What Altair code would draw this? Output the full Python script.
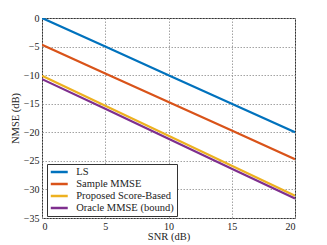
import altair as alt
import pandas as pd

snr = [0, 5, 10, 15, 20]
series_names = ["LS", "Sample MMSE", "Proposed Score-Based", "Oracle MMSE (bound)"]
ls = [0.0, -5.0, -10.0, -15.0, -20.0]
sample_mmse = [-4.7, -9.7, -14.7, -19.7, -24.7]
proposed = [-10.1, -15.35, -20.6, -25.85, -31.1]
oracle = [-10.7, -15.9, -21.15, -26.4, -31.6]
colors = ["#0072BD", "#D95319", "#EDB120", "#7E2F8E"]

rows = []
for name, vals in zip(series_names, [ls, sample_mmse, proposed, oracle]):
    for s, v in zip(snr, vals):
        rows.append({"SNR": s, "NMSE": v, "Method": name})
df = pd.DataFrame(rows)

font = "Liberation Serif"

chart = alt.Chart(df).mark_line(strokeWidth=2.2, clip=True).encode(
    x=alt.X("SNR:Q", title="SNR (dB)", scale=alt.Scale(domain=[0, 20], nice=False),
            axis=alt.Axis(values=[0, 5, 10, 15, 20], grid=True, gridDash=[1.5, 1.5],
                          gridColor="#999999", gridOpacity=0.9, tickSize=0,
                          labelPadding=3, titleY=13, domain=False)),
    y=alt.Y("NMSE:Q", title="NMSE (dB)", scale=alt.Scale(domain=[-35, 0], nice=False),
            axis=alt.Axis(values=[0, -5, -10, -15, -20, -25, -30, -35], grid=True,
                          gridDash=[1.5, 1.5], gridColor="#999999", gridOpacity=0.9,
                          tickSize=0, labelPadding=3, titleX=-22, domain=False)),
    color=alt.Color("Method:N", sort=series_names,
                    scale=alt.Scale(domain=series_names, range=colors),
                    legend=alt.Legend(title=None, orient="none", legendX=5, legendY=146,
                                      symbolType="M-2,0H2", symbolSize=72, symbolStrokeWidth=2.5,
                                      strokeColor="#333333", fillColor="white", padding=2.5,
                                      rowPadding=1, labelFontSize=10.5, labelFont=font,
                                      labelColor="#222222", symbolOffset=4.25, labelOffset=11.5)),
    order=alt.Order("SNR:Q"),
).properties(
    width=253, height=200,
    autosize=alt.AutoSizeParams(type="none"),
    padding={"left": 34, "top": 10, "right": 20, "bottom": 27},
).configure_view(
    stroke="#333333", strokeWidth=1
).configure_axis(
    labelFont=font, titleFont=font, labelFontSize=10, titleFontSize=10.5,
    labelColor="#222222", titleColor="#222222", titleFontWeight="normal"
)

chart.save("out.html", embed_options={"renderer": "svg", "actions": False})
